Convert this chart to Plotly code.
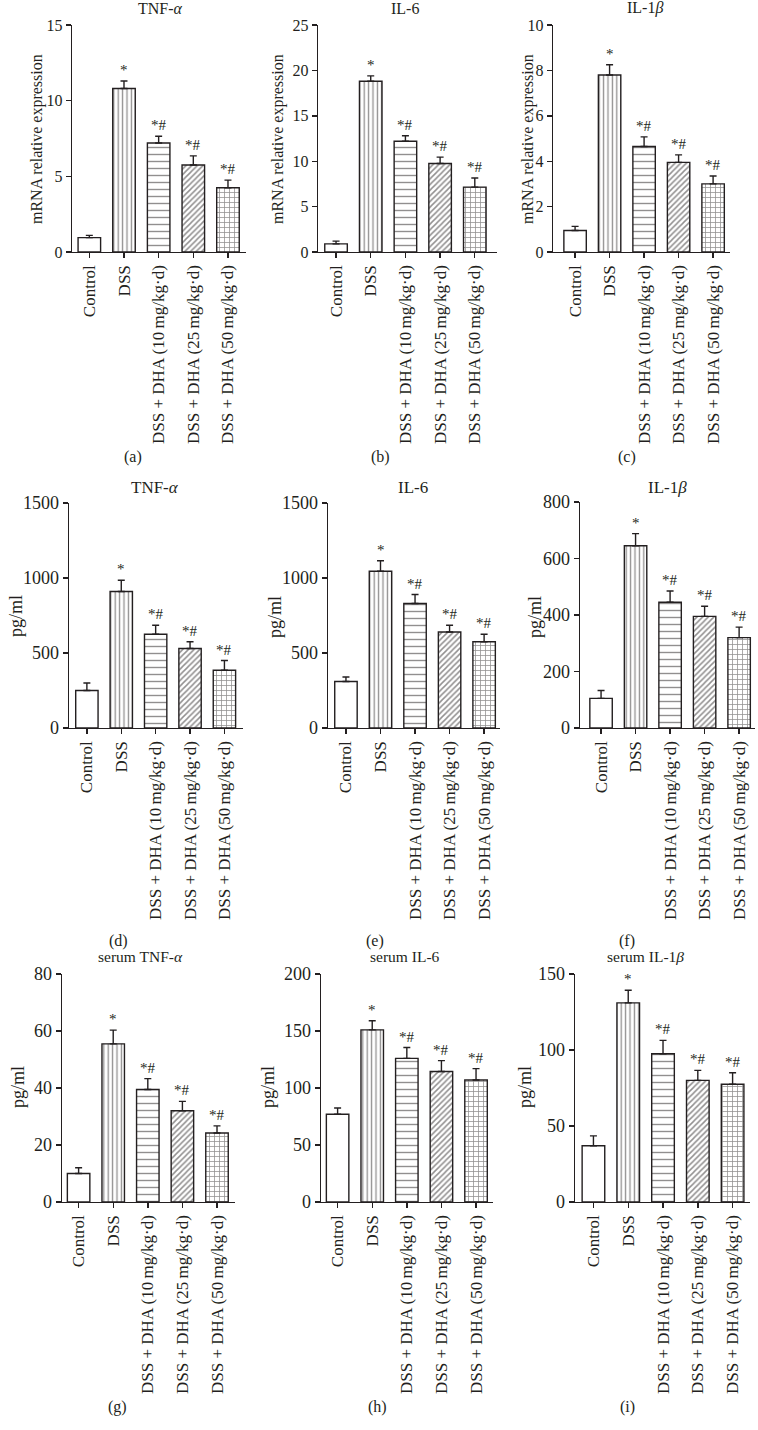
import plotly.graph_objects as go

# ---------------- data ----------------
categories = ["Control", "DSS",
              "DSS + DHA (10\u2009mg/kg\u00b7d)",
              "DSS + DHA (25\u2009mg/kg\u00b7d)",
              "DSS + DHA (50\u2009mg/kg\u00b7d)"]
significance = ["", "*", "*#", "*#", "*#"]

titles = ["TNF-<i>\u03b1</i>", "IL-6", "IL-1<i>\u03b2</i>",
          "TNF-<i>\u03b1</i>", "IL-6", "IL-1<i>\u03b2</i>",
          "serum TNF-<i>\u03b1</i>", "serum IL-6", "serum IL-1<i>\u03b2</i>"]
panel_letters = ["(a)", "(b)", "(c)", "(d)", "(e)", "(f)", "(g)", "(h)", "(i)"]
y_titles = ["mRNA relative expression"] * 3 + ["pg/ml"] * 6

mrna_tnf = [0.95, 10.8, 7.2, 5.75, 4.25]
mrna_tnf_err = [0.15, 0.5, 0.45, 0.6, 0.5]
mrna_il6 = [0.9, 18.8, 12.2, 9.75, 7.15]
mrna_il6_err = [0.3, 0.6, 0.6, 0.7, 1.0]
mrna_il1b = [0.95, 7.8, 4.65, 3.95, 3.0]
mrna_il1b_err = [0.18, 0.45, 0.42, 0.33, 0.35]

tissue_tnf = [250, 910, 625, 530, 385]
tissue_tnf_err = [50, 75, 60, 45, 65]
tissue_il6 = [310, 1045, 830, 640, 575]
tissue_il6_err = [30, 70, 60, 45, 50]
tissue_il1b = [105, 645, 445, 395, 320]
tissue_il1b_err = [28, 43, 40, 36, 37]

serum_tnf = [10, 55.5, 39.5, 32, 24.2]
serum_tnf_err = [2.0, 4.8, 3.8, 3.3, 2.5]
serum_il6 = [77, 151, 126, 114.5, 107]
serum_il6_err = [5.5, 8, 9.5, 9.5, 10]
serum_il1b = [37, 131, 97.5, 80, 77.5]
serum_il1b_err = [6.5, 8.3, 8.8, 6.6, 7.5]

values = [mrna_tnf, mrna_il6, mrna_il1b, tissue_tnf, tissue_il6, tissue_il1b,
          serum_tnf, serum_il6, serum_il1b]
errors = [mrna_tnf_err, mrna_il6_err, mrna_il1b_err, tissue_tnf_err, tissue_il6_err,
          tissue_il1b_err, serum_tnf_err, serum_il6_err, serum_il1b_err]
y_max = [15, 25, 10, 1500, 1500, 800, 80, 200, 150]
y_dtick = [5, 5, 2, 500, 500, 200, 20, 50, 50]

# ---------------- layout (pixels) ----------------
W, H = 758, 1430
# axis left x, axis right x, top-of-axis y, zero y
boxes = [(72, 246, 25, 252), (318, 497, 25, 252), (553, 730, 25, 252),
         (69, 243, 503, 728), (328, 500, 503, 728), (580, 755, 502, 728),
         (62, 235, 974, 1202), (321, 493, 974, 1202), (575, 750, 974, 1202)]
x_ranges = [(-0.5, 4.52), (-0.52, 4.64), (-0.64, 4.49),
            (-0.52, 4.54), (-0.52, 4.46), (-0.61, 4.46),
            (-0.48, 4.52), (-0.48, 4.49), (-0.53, 4.5)]
title_pos = [(160, 8), (405, 8), (645, 8), (155, 487), (413, 487), (667, 487),
             (140, 957), (405, 957), (645, 957)]
title_size = [16, 16, 16, 17, 17, 17, 15.5, 15.5, 15.5]
ytitle_pos = [(37, 139), (278, 139), (528, 139), (16, 616), (275, 617), (535, 617),
              (18, 1087), (268, 1087), (525, 1087)]
ytitle_size = [16, 16, 16, 18, 18, 18, 18, 18, 18]
tick_size = [16, 16, 16, 18, 18, 18, 18, 18, 18]
letter_pos = [(133, 457), (380, 457), (627, 457), (118, 941), (375, 941), (627, 941),
              (117, 1407), (377, 1407), (627, 1407)]

INK = "#231f20"
FONT = "Liberation Serif"

pattern_shapes = ["", "|", "-", "/", "+"]
pattern_sizes = [6, 4.4, 7, 4.0, 5]
pattern_solid = [0.0, 0.3, 0.2, 0.38, 0.28]

fig = go.Figure()
annotations = []


def px_x(x):
    return x / W


def px_y(y):
    return 1 - y / H


for i in range(9):
    n = "" if i == 0 else str(i + 1)
    xa, ya = "x" + n, "y" + n
    fig.add_trace(go.Bar(
        x=categories, y=values[i], xaxis=xa, yaxis=ya, width=0.65,
        marker=dict(color="white",
                    line=dict(color=INK, width=1.4),
                    pattern=dict(shape=pattern_shapes, size=pattern_sizes,
                                 solidity=pattern_solid, fgcolor=INK,
                                 bgcolor="white", fillmode="overlay")),
        error_y=dict(type="data", array=errors[i], arrayminus=[0] * 5,
                     symmetric=False, color=INK, thickness=1.4, width=3.5),
        showlegend=False, hoverinfo="skip",
    ))
    x0, x1, yt, yz = boxes[i]
    fig.layout["xaxis" + n] = dict(
        domain=[px_x(x0), px_x(x1)], anchor=ya, type="category",
        range=list(x_ranges[i]), showline=True, linecolor=INK, linewidth=1.4,
        ticks="outside", ticklen=5, tickwidth=1.4, tickcolor=INK,
        tickangle=-90, tickfont=dict(family=FONT, size=17, color=INK),
        showgrid=False, zeroline=False, fixedrange=True, automargin=False)
    fig.layout["yaxis" + n] = dict(
        domain=[px_y(yz), px_y(yt)], anchor=xa, range=[0, y_max[i]],
        dtick=y_dtick[i], tick0=0, showline=True, linecolor=INK, linewidth=1.4,
        ticks="outside", ticklen=5, tickwidth=1.4, tickcolor=INK,
        tickfont=dict(family=FONT, size=tick_size[i], color=INK),
        showgrid=False, zeroline=False, fixedrange=True, automargin=False)

    # significance marks
    for c, v, e, s in zip(categories, values[i], errors[i], significance):
        if s:
            annotations.append(dict(
                x=c, y=v + e, xref=xa, yref=ya, text=s, showarrow=False,
                xanchor="center", yanchor="bottom", yshift=1,
                font=dict(family=FONT, size=15, color=INK)))
    # panel title
    tx, ty = title_pos[i]
    annotations.append(dict(x=px_x(tx), y=px_y(ty), xref="paper", yref="paper",
                            text=titles[i], showarrow=False,
                            xanchor="center", yanchor="middle",
                            font=dict(family=FONT, size=title_size[i], color=INK)))
    # y title
    yx, yy = ytitle_pos[i]
    annotations.append(dict(x=px_x(yx), y=px_y(yy), xref="paper", yref="paper",
                            text=y_titles[i], showarrow=False, textangle=-90,
                            xanchor="center", yanchor="middle",
                            font=dict(family=FONT, size=ytitle_size[i], color=INK)))
    # panel letter
    lx, ly = letter_pos[i]
    annotations.append(dict(x=px_x(lx), y=px_y(ly), xref="paper", yref="paper",
                            text=panel_letters[i], showarrow=False,
                            xanchor="center", yanchor="middle",
                            font=dict(family=FONT, size=16, color=INK)))

fig.update_layout(template="none", width=W, height=H, autosize=False,
                  margin=dict(l=0, r=0, t=0, b=0, pad=0, autoexpand=False),
                  paper_bgcolor="white", plot_bgcolor="white",
                  annotations=annotations, bargap=0.35,
                  font=dict(family=FONT, color=INK))

fig.write_html("out.html",
               config={"displayModeBar": False, "staticPlot": True},
               post_script="document.body.style.margin='0';"
                           "document.body.style.overflow='hidden';")
